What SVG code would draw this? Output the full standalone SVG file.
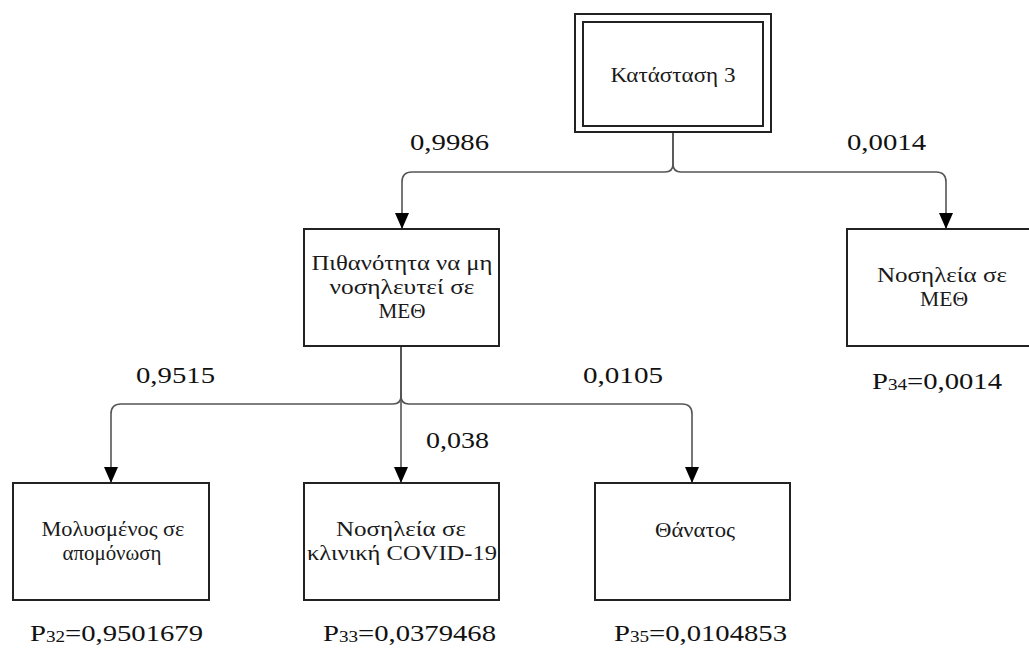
<svg xmlns="http://www.w3.org/2000/svg" width="1029" height="648" viewBox="0 0 1029 648">
<defs>
<marker id="arr" viewBox="0 0 16 14" refX="16" refY="7" markerWidth="16" markerHeight="14" markerUnits="userSpaceOnUse" orient="auto">
<path d="M0,0 L16,7 L0,14 Z" fill="#000"/>
</marker>
</defs>
<style>
.box{fill:#fff;stroke:#222;stroke-width:2}
.bt{font-family:"Liberation Serif","Times New Roman","DejaVu Serif",serif;font-size:21px;fill:#1a1a1a;text-anchor:middle}
.lb{font-family:"Liberation Serif","Times New Roman","DejaVu Serif",serif;font-size:24px;fill:#111}
.pl{font-family:"Liberation Serif","Times New Roman","DejaVu Serif",serif;font-size:24px;fill:#111}
.sub{font-size:16px}
.con{fill:none;stroke:#555;stroke-width:1.6;marker-end:url(#arr)}
</style>
<rect width="1029" height="648" fill="#fff"/>
<g id="connectors">
<path class="con" d="M673,132 V164 Q673,172 665,172 H412 Q402,172 402,182 V229"/>
<path class="con" d="M673,132 V164 Q673,172 681,172 H936 Q946,172 946,182 V229"/>
<path class="con" d="M401,346 V396 Q401,404 393,404 H121 Q111,404 111,414 V483"/>
<path class="con" d="M401,346 V483"/>
<path class="con" d="M401,346 V396 Q401,404 409,404 H682 Q692,404 692,414 V483"/>
</g>
<g id="node-state3">
<rect class="box" x="575" y="14" width="196" height="118"/>
<rect class="box" x="583" y="22" width="180" height="104"/>
<text class="bt" x="673" y="82" textLength="125" lengthAdjust="spacingAndGlyphs">Κατάσταση 3</text>
</g>
<g id="node-no-icu">
<rect class="box" x="304" y="229" width="195" height="117"/>
<text class="bt" x="402" y="270" textLength="181" lengthAdjust="spacingAndGlyphs">Πιθανότητα να μη</text>
<text class="bt" x="402" y="294" textLength="145" lengthAdjust="spacingAndGlyphs">νοσηλευτεί σε</text>
<text class="bt" x="402" y="318" textLength="47" lengthAdjust="spacingAndGlyphs">ΜΕΘ</text>
</g>
<g id="node-icu">
<rect class="box" x="847" y="229" width="196" height="117"/>
<text class="bt" x="942" y="282" textLength="130" lengthAdjust="spacingAndGlyphs">Νοσηλεία σε</text>
<text class="bt" x="944" y="306" textLength="48" lengthAdjust="spacingAndGlyphs">ΜΕΘ</text>
</g>
<g id="node-isolation">
<rect class="box" x="13" y="483" width="196" height="117"/>
<text class="bt" x="113" y="536" textLength="143" lengthAdjust="spacingAndGlyphs">Μολυσμένος σε</text>
<text class="bt" x="112" y="560" textLength="99" lengthAdjust="spacingAndGlyphs">απομόνωση</text>
</g>
<g id="node-clinic">
<rect class="box" x="304" y="483" width="195" height="117"/>
<text class="bt" x="401" y="536" textLength="130" lengthAdjust="spacingAndGlyphs">Νοσηλεία σε</text>
<text class="bt" x="402" y="560" textLength="190" lengthAdjust="spacingAndGlyphs">κλινική COVID-19</text>
</g>
<g id="node-death">
<rect class="box" x="595" y="483" width="195" height="117"/>
<text class="bt" x="695" y="537" textLength="80" lengthAdjust="spacingAndGlyphs">Θάνατος</text>
</g>
<g id="labels">
<text class="lb" x="410" y="150" textLength="79" lengthAdjust="spacingAndGlyphs">0,9986</text>
<text class="lb" x="847" y="150" textLength="79" lengthAdjust="spacingAndGlyphs">0,0014</text>
<text class="lb" x="136" y="383" textLength="79" lengthAdjust="spacingAndGlyphs">0,9515</text>
<text class="lb" x="583" y="383" textLength="80" lengthAdjust="spacingAndGlyphs">0,0105</text>
<text class="lb" x="426" y="448" textLength="63" lengthAdjust="spacingAndGlyphs">0,038</text>
<text class="pl" x="872" y="389" textLength="130" lengthAdjust="spacingAndGlyphs">P<tspan class="sub" dy="1">34</tspan><tspan dy="-1">=0,0014</tspan></text>
<text class="pl" x="30" y="641" textLength="173" lengthAdjust="spacingAndGlyphs">P<tspan class="sub" dy="1">32</tspan><tspan dy="-1">=0,9501679</tspan></text>
<text class="pl" x="323" y="641" textLength="173" lengthAdjust="spacingAndGlyphs">P<tspan class="sub" dy="1">33</tspan><tspan dy="-1">=0,0379468</tspan></text>
<text class="pl" x="614" y="641" textLength="173" lengthAdjust="spacingAndGlyphs">P<tspan class="sub" dy="1">35</tspan><tspan dy="-1">=0,0104853</tspan></text>
</g>
</svg>
